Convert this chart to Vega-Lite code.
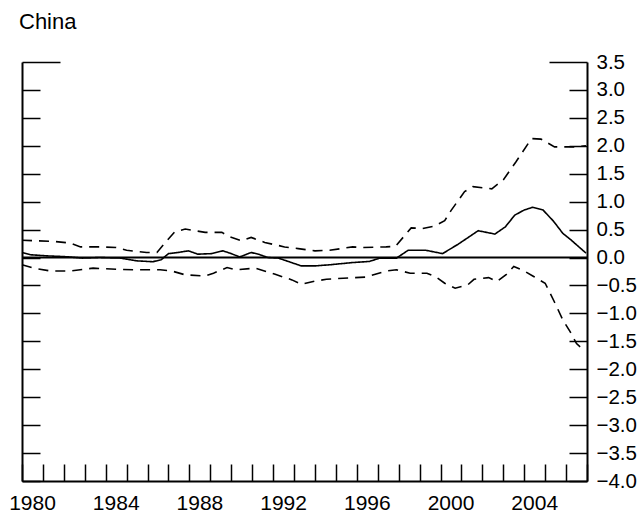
{
  "$schema": "https://vega.github.io/schema/vega-lite/v6.json",
  "autosize": "none",
  "width": 565,
  "height": 419,
  "padding": {"left": 22, "top": 62, "right": 53, "bottom": 38},
  "background": "white",
  "config": {
    "view": {"stroke": null},
    "font": "Liberation Sans",
    "axis": {"domainColor": "black", "domainWidth": 2, "tickColor": "black", "tickWidth": 1.5, "grid": false, "labelColor": "black", "labelFont": "Liberation Sans", "labelFontSize": 21, "title": null}
  },
  "title": {"text": "China", "anchor": "start", "frame": "group", "fontSize": 22, "fontWeight": "normal", "font": "Liberation Sans", "color": "black", "baseline": "alphabetic", "offset": 20, "dy": 19, "dx": -3},
  "datasets": {
    "series": [
      {"t": 1980.0, "s": "est", "v": 0.09}, {"t": 1980.4, "s": "est", "v": 0.05}, {"t": 1981.2, "s": "est", "v": 0.03}, {"t": 1982.1, "s": "est", "v": 0.015}, {"t": 1982.9, "s": "est", "v": -0.01}, {"t": 1983.7, "s": "est", "v": 0.0}, {"t": 1984.7, "s": "est", "v": -0.01}, {"t": 1985.5, "s": "est", "v": -0.06}, {"t": 1986.25, "s": "est", "v": -0.075}, {"t": 1986.65, "s": "est", "v": -0.04}, {"t": 1987.0, "s": "est", "v": 0.07}, {"t": 1987.45, "s": "est", "v": 0.09}, {"t": 1987.95, "s": "est", "v": 0.12}, {"t": 1988.4, "s": "est", "v": 0.06}, {"t": 1989.05, "s": "est", "v": 0.07}, {"t": 1989.6, "s": "est", "v": 0.12}, {"t": 1990.0, "s": "est", "v": 0.07}, {"t": 1990.4, "s": "est", "v": 0.01}, {"t": 1990.95, "s": "est", "v": 0.09}, {"t": 1991.3, "s": "est", "v": 0.06}, {"t": 1991.75, "s": "est", "v": 0.0}, {"t": 1992.25, "s": "est", "v": -0.01}, {"t": 1992.8, "s": "est", "v": -0.08}, {"t": 1993.35, "s": "est", "v": -0.15}, {"t": 1994.0, "s": "est", "v": -0.15}, {"t": 1994.7, "s": "est", "v": -0.13}, {"t": 1995.8, "s": "est", "v": -0.09}, {"t": 1996.6, "s": "est", "v": -0.07}, {"t": 1997.1, "s": "est", "v": -0.01}, {"t": 1997.9, "s": "est", "v": -0.01}, {"t": 1998.45, "s": "est", "v": 0.13}, {"t": 1999.3, "s": "est", "v": 0.13}, {"t": 2000.1, "s": "est", "v": 0.07}, {"t": 2000.45, "s": "est", "v": 0.15}, {"t": 2000.85, "s": "est", "v": 0.24}, {"t": 2001.8, "s": "est", "v": 0.48}, {"t": 2002.6, "s": "est", "v": 0.42}, {"t": 2003.1, "s": "est", "v": 0.55}, {"t": 2003.55, "s": "est", "v": 0.76}, {"t": 2004.0, "s": "est", "v": 0.85}, {"t": 2004.4, "s": "est", "v": 0.9}, {"t": 2004.9, "s": "est", "v": 0.85}, {"t": 2005.4, "s": "est", "v": 0.65}, {"t": 2005.85, "s": "est", "v": 0.43}, {"t": 2006.25, "s": "est", "v": 0.31}, {"t": 2006.95, "s": "est", "v": 0.08},
      {"t": 1980.0, "s": "upper", "v": 0.31}, {"t": 1980.6, "s": "upper", "v": 0.3}, {"t": 1981.5, "s": "upper", "v": 0.29}, {"t": 1982.3, "s": "upper", "v": 0.26}, {"t": 1982.8, "s": "upper", "v": 0.19}, {"t": 1983.7, "s": "upper", "v": 0.19}, {"t": 1984.5, "s": "upper", "v": 0.18}, {"t": 1985.0, "s": "upper", "v": 0.13}, {"t": 1985.95, "s": "upper", "v": 0.09}, {"t": 1986.45, "s": "upper", "v": 0.09}, {"t": 1986.85, "s": "upper", "v": 0.27}, {"t": 1987.3, "s": "upper", "v": 0.46}, {"t": 1987.8, "s": "upper", "v": 0.51}, {"t": 1988.75, "s": "upper", "v": 0.45}, {"t": 1989.55, "s": "upper", "v": 0.45}, {"t": 1989.95, "s": "upper", "v": 0.37}, {"t": 1990.5, "s": "upper", "v": 0.3}, {"t": 1990.95, "s": "upper", "v": 0.36}, {"t": 1991.6, "s": "upper", "v": 0.27}, {"t": 1992.55, "s": "upper", "v": 0.19}, {"t": 1993.2, "s": "upper", "v": 0.16}, {"t": 1994.0, "s": "upper", "v": 0.12}, {"t": 1994.7, "s": "upper", "v": 0.13}, {"t": 1995.8, "s": "upper", "v": 0.19}, {"t": 1996.3, "s": "upper", "v": 0.18}, {"t": 1997.4, "s": "upper", "v": 0.19}, {"t": 1997.85, "s": "upper", "v": 0.2}, {"t": 1998.3, "s": "upper", "v": 0.4}, {"t": 1998.6, "s": "upper", "v": 0.53}, {"t": 1999.15, "s": "upper", "v": 0.52}, {"t": 1999.7, "s": "upper", "v": 0.56}, {"t": 2000.2, "s": "upper", "v": 0.66}, {"t": 2000.5, "s": "upper", "v": 0.84}, {"t": 2001.15, "s": "upper", "v": 1.18}, {"t": 2001.55, "s": "upper", "v": 1.27}, {"t": 2002.45, "s": "upper", "v": 1.23}, {"t": 2003.0, "s": "upper", "v": 1.39}, {"t": 2003.6, "s": "upper", "v": 1.71}, {"t": 2004.35, "s": "upper", "v": 2.13}, {"t": 2004.8, "s": "upper", "v": 2.12}, {"t": 2005.45, "s": "upper", "v": 1.98}, {"t": 2006.4, "s": "upper", "v": 1.98}, {"t": 2006.95, "s": "upper", "v": 2.0},
      {"t": 1980.0, "s": "lower", "v": -0.13}, {"t": 1980.55, "s": "lower", "v": -0.19}, {"t": 1981.35, "s": "lower", "v": -0.24}, {"t": 1982.3, "s": "lower", "v": -0.24}, {"t": 1983.4, "s": "lower", "v": -0.19}, {"t": 1984.5, "s": "lower", "v": -0.21}, {"t": 1985.5, "s": "lower", "v": -0.22}, {"t": 1986.6, "s": "lower", "v": -0.22}, {"t": 1987.15, "s": "lower", "v": -0.24}, {"t": 1987.8, "s": "lower", "v": -0.31}, {"t": 1988.75, "s": "lower", "v": -0.33}, {"t": 1989.15, "s": "lower", "v": -0.28}, {"t": 1989.8, "s": "lower", "v": -0.18}, {"t": 1990.2, "s": "lower", "v": -0.22}, {"t": 1991.15, "s": "lower", "v": -0.19}, {"t": 1992.1, "s": "lower", "v": -0.3}, {"t": 1992.9, "s": "lower", "v": -0.4}, {"t": 1993.35, "s": "lower", "v": -0.48}, {"t": 1994.0, "s": "lower", "v": -0.42}, {"t": 1994.55, "s": "lower", "v": -0.39}, {"t": 1995.35, "s": "lower", "v": -0.37}, {"t": 1996.45, "s": "lower", "v": -0.35}, {"t": 1997.4, "s": "lower", "v": -0.24}, {"t": 1997.9, "s": "lower", "v": -0.22}, {"t": 1998.55, "s": "lower", "v": -0.28}, {"t": 1999.35, "s": "lower", "v": -0.28}, {"t": 1999.8, "s": "lower", "v": -0.35}, {"t": 2000.2, "s": "lower", "v": -0.46}, {"t": 2000.7, "s": "lower", "v": -0.55}, {"t": 2001.3, "s": "lower", "v": -0.49}, {"t": 2001.6, "s": "lower", "v": -0.39}, {"t": 2002.3, "s": "lower", "v": -0.36}, {"t": 2002.7, "s": "lower", "v": -0.43}, {"t": 2003.15, "s": "lower", "v": -0.3}, {"t": 2003.5, "s": "lower", "v": -0.16}, {"t": 2004.0, "s": "lower", "v": -0.24}, {"t": 2004.45, "s": "lower", "v": -0.34}, {"t": 2005.0, "s": "lower", "v": -0.46}, {"t": 2005.45, "s": "lower", "v": -0.8}, {"t": 2005.85, "s": "lower", "v": -1.12}, {"t": 2006.2, "s": "lower", "v": -1.33}, {"t": 2006.5, "s": "lower", "v": -1.54}, {"t": 2006.85, "s": "lower", "v": -1.66}
    ],
    "zero": [{"z": 0}]
  },
  "layer": [
    {
      "data": {"name": "series"},
      "mark": {"type": "line", "color": "black", "strokeWidth": 1.6},
      "encoding": {
        "x": {"field": "t", "type": "quantitative", "scale": {"domain": [1980, 2007], "nice": false, "zero": false},
          "axis": {"orient": "bottom", "values": [1980,1981,1982,1983,1984,1985,1986,1987,1988,1989,1990,1991,1992,1993,1994,1995,1996,1997,1998,1999,2000,2001,2002,2003,2004,2005,2006,2007],
            "labelExpr": "datum.value % 4 == 0 && datum.value < 2007 ? format(datum.value, 'd') : ''", "tickSize": -17, "labelPadding": 28.5, "labelOffset": 10, "labelFlush": false, "labelOverlap": false, "labelAlign": "center", "labelBaseline": "top"}},
        "y": {"field": "v", "type": "quantitative", "scale": {"domain": [-4, 3.5], "nice": false, "zero": false},
          "axis": {"orient": "right", "values": [-4,-3.5,-3,-2.5,-2,-1.5,-1,-0.5,0,0.5,1,1.5,2,2.5,3,3.5], "format": ".1f", "labelFontSize": 20.5,
            "tickSize": {"condition": {"test": "datum.value == 3.5", "value": -38}, "value": -18},
            "labelPadding": {"condition": {"test": "datum.value == 3.5", "value": 47}, "value": 27},
            "labelAlign": "left", "labelBaseline": "middle", "labelFlush": false, "labelOverlap": false}},
        "strokeDash": {"field": "s", "type": "nominal", "scale": {"domain": ["est", "upper", "lower"], "range": [[1, 0], [10, 7], [10, 7]]}, "legend": null},
        "detail": {"field": "s"}
      }
    },
    {
      "data": {"name": "zero"},
      "mark": {"type": "rule", "color": "black", "strokeWidth": 2},
      "encoding": {
        "y": {"field": "z", "type": "quantitative", "scale": {"domain": [-4, 3.5], "nice": false, "zero": false},
          "axis": {"orient": "left", "values": [-4,-3.5,-3,-2.5,-2,-1.5,-1,-0.5,0,0.5,1,1.5,2,2.5,3,3.5], "labels": false,
            "tickSize": {"condition": {"test": "datum.value == 3.5", "value": -38}, "value": -18}}}
      }
    }
  ],
  "resolve": {"axis": {"y": "independent"}}
}
